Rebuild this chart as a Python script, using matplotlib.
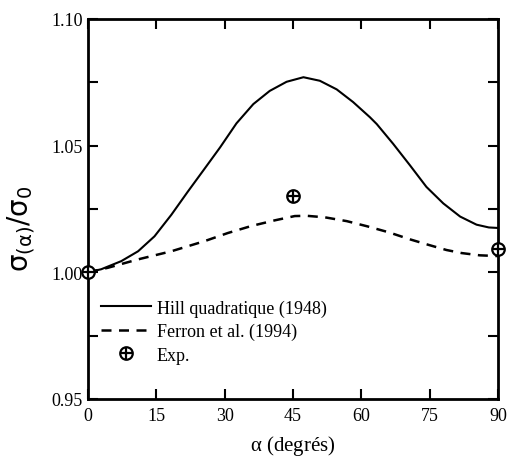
import numpy as np
import matplotlib.pyplot as plt
from matplotlib.legend_handler import HandlerTuple
from matplotlib.ticker import MultipleLocator

# Hill quadratique (1948): angle (deg) and normalised stress
hill_a = [0, 2.9, 7.3, 11.0, 14.6, 18.3, 21.9, 25.6, 29.0, 32.6, 36.3, 39.9, 43.6,
          47.3, 50.9, 54.6, 58.2, 61.9, 63.4, 67.0, 70.7, 74.3, 78.0, 81.7, 85.3, 88.0, 90]
hill = [1.000, 1.0012, 1.0044, 1.0083, 1.0142, 1.0227, 1.0318, 1.0409, 1.0493, 1.0588,
        1.0664, 1.0716, 1.0752, 1.0770, 1.0756, 1.0722, 1.0672, 1.0612, 1.0585, 1.0507,
        1.0422, 1.0337, 1.0272, 1.0220, 1.0188, 1.0177, 1.0175]
# Ferron et al. (1994)
ferron_a = [0, 4.4, 11.0, 18.3, 25.6, 30.7, 35.9, 41.0, 45.4, 48.0, 52.0, 56.8, 61.2,
            66.0, 70.7, 75.0, 78.7, 82.0, 86.0, 90]
ferron = [1.000, 1.0018, 1.0051, 1.0083, 1.0123, 1.0155, 1.0183, 1.0205, 1.0222, 1.0223,
          1.0217, 1.0202, 1.0182, 1.0158, 1.0130, 1.0107, 1.0088, 1.0076, 1.0067, 1.0064]
# experimental points
exp_x = [0, 45, 90]
exp_y = [1.000, 1.030, 1.009]

plt.rcParams['font.family'] = ['Liberation Serif', 'DejaVu Serif']
plt.rcParams['mathtext.fontset'] = 'dejavusans'

fig = plt.figure(figsize=(5.08, 4.64), dpi=100)
ax = fig.add_axes([0.1732, 0.138, 0.807, 0.819])

l1, = ax.plot(hill_a, hill, 'k-', lw=1.5)
l2, = ax.plot(ferron_a, ferron, 'k--', lw=1.8, dashes=(4, 3))
m1, = ax.plot(exp_x, exp_y, 'o', ms=9, mfc='white', mec='k', mew=1.6, clip_on=False, zorder=5)
m2, = ax.plot(exp_x, exp_y, '+', ms=9, mec='k', mew=1.6, clip_on=False, zorder=6)

ax.set_xlim(0, 90)
ax.set_ylim(0.95, 1.10)
ax.xaxis.set_major_locator(MultipleLocator(15))
ax.yaxis.set_minor_locator(MultipleLocator(0.025))
ax.set_yticks([0.95, 1.00, 1.05, 1.10])
ax.set_yticklabels(['0.95', '1.00', '1.05', '1.10'])
ax.tick_params(which='both', direction='in', top=True, right=True, labelsize=13, width=1.5)
ax.tick_params(which='both', length=7)
ax.tick_params(axis='x', pad=6)
for s in ax.spines.values():
    s.set_linewidth(2)

ax.set_xlabel(r'$\mathregular{\alpha}$ (degrés)', fontsize=15, labelpad=6)
ax.set_ylabel(r'$\mathrm{\sigma_{(\alpha)}/\sigma_0}$', fontsize=20)
ax.yaxis.set_label_coords(-0.125, 0.45)

ax.legend([l1, l2, (m1, m2)], ['Hill quadratique (1948)', 'Ferron et al. (1994)', 'Exp.'],
          handler_map={tuple: HandlerTuple(ndivide=1)},
          loc='upper left', bbox_to_anchor=(0.0, 0.295), frameon=False, fontsize=13,
          handlelength=2.8, handletextpad=0.3, labelspacing=0.35, borderaxespad=0.3)

fig.savefig('out.png', dpi=100)
